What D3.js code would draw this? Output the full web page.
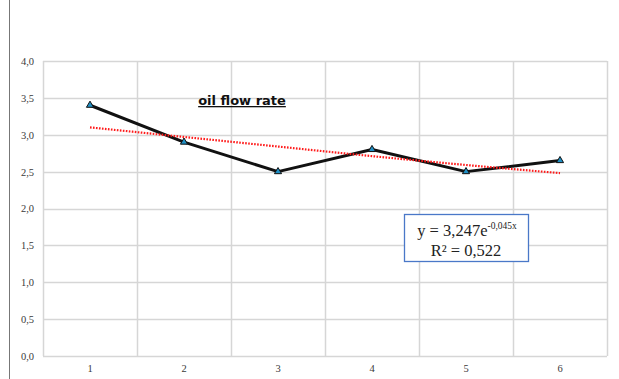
<!DOCTYPE html>
<html><head><meta charset="utf-8">
<script src="https://cdn.jsdelivr.net/npm/d3@7"></script>
<style>body{margin:0;background:#fff}svg{display:block}</style>
</head><body>
<svg id="c" width="619" height="379"></svg>
<script>
const categories = ["1","2","3","4","5","6"];
const oilFlow = [3.4, 2.9, 2.5, 2.8, 2.5, 2.65];
const trend = [3.10, 2.97, 2.84, 2.71, 2.59, 2.48];
const yTicks = [0,0.5,1,1.5,2,2.5,3,3.5,4];
const title = "oil flow rate";
const eqMain = "y = 3,247e";
const eqSup = "-0,045x";
const r2 = "R² = 0,522";

const svg = d3.select("#c");
const L = 43, R = 607, T = 61, B = 356;
const x = d3.scaleBand().domain(categories).range([L, R]);
const y = d3.scaleLinear().domain([0, 4]).range([B, T]);
const fmt = d => d.toFixed(1).replace(".", ",");

svg.append("line").attr("x1",9.5).attr("x2",9.5).attr("y1",0).attr("y2",379).attr("stroke","#777").attr("stroke-width",1);

svg.append("g").selectAll("line").data(yTicks).join("line")
  .attr("x1", L).attr("x2", R).attr("y1", d => Math.round(y(d))+0.5).attr("y2", d => Math.round(y(d))+0.5)
  .attr("stroke", "#d6d6d6").attr("stroke-width", 1.5);
const bounds = categories.map(c => x(c)).concat([R]);
svg.append("g").selectAll("line").data(bounds).join("line")
  .attr("x1", d => Math.round(d)+0.5).attr("x2", d => Math.round(d)+0.5).attr("y1", T).attr("y2", B)
  .attr("stroke", "#d6d6d6").attr("stroke-width", 1.5);

const yAxis = d3.axisLeft(y).tickValues(yTicks).tickFormat(fmt).tickSize(0).tickPadding(9);
const ga = svg.append("g").attr("transform", `translate(${L},0)`).call(yAxis);
ga.select(".domain").remove();
ga.selectAll("text").attr("font-family", "Liberation Serif, serif").attr("font-size", 10.5).attr("fill", "#3a3a3a");

const xAxis = d3.axisBottom(x).tickSize(0).tickPadding(9);
const gx = svg.append("g").attr("transform", `translate(0,${B})`).call(xAxis);
gx.select(".domain").remove();
gx.selectAll("text").attr("font-family", "Liberation Serif, serif").attr("font-size", 10.5).attr("fill", "#3a3a3a");

const cx = c => x(c) + x.bandwidth()/2;

svg.append("path").datum(oilFlow)
  .attr("d", d3.line().x((d,i) => cx(categories[i])).y(d => y(d)))
  .attr("fill", "none").attr("stroke", "#111").attr("stroke-width", 3).attr("stroke-linejoin","round");

svg.append("path").datum(trend)
  .attr("d", d3.line().curve(d3.curveMonotoneX).x((d,i) => cx(categories[i])).y(d => y(d)))
  .attr("fill", "none").attr("stroke", "#ff1a1a").attr("stroke-width", 2.2).attr("stroke-dasharray", "1.6,1.4");

svg.append("g").selectAll("path").data(oilFlow).join("path")
  .attr("transform", (d,i) => `translate(${cx(categories[i])},${y(d)})`)
  .attr("d", d3.symbol(d3.symbolTriangle, 22))
  .attr("fill", "#1f8fc4").attr("stroke", "#111").attr("stroke-width", 1);

svg.append("text").attr("x", 242).attr("y", 105).attr("text-anchor","middle")
  .attr("font-family","DejaVu Sans, sans-serif").attr("font-weight","bold").attr("font-size",13)
  .attr("fill","#111").attr("text-decoration","underline").text(title);

svg.append("rect").attr("x", 404.5).attr("y", 214.5).attr("width", 124).attr("height", 47)
  .attr("fill", "#fff").attr("stroke", "#4a78c8").attr("stroke-width", 1.3);
const eq = svg.append("text").attr("x", 467).attr("y", 236).attr("text-anchor","middle")
  .attr("font-family","Liberation Serif, serif").attr("font-size",16.5).attr("fill","#222");
eq.append("tspan").text(eqMain);
eq.append("tspan").attr("font-size",9.5).attr("dy",-7).text(eqSup);
svg.append("text").attr("x", 466).attr("y", 256).attr("text-anchor","middle")
  .attr("font-family","Liberation Serif, serif").attr("font-size",16.5).attr("fill","#222").text(r2);
</script>
</body></html>
